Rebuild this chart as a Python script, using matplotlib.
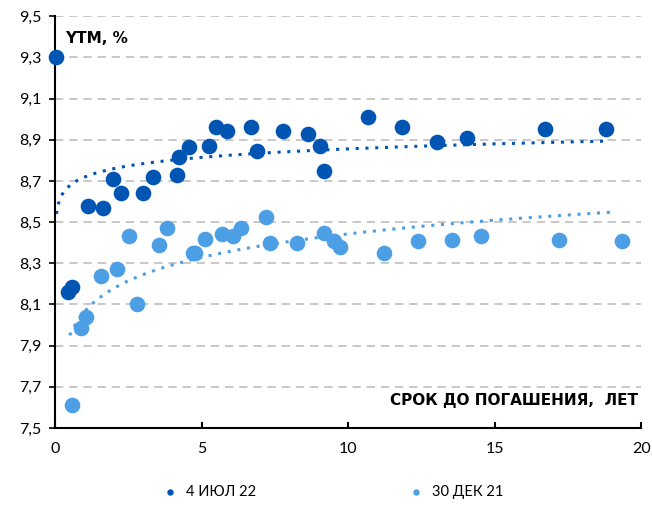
import numpy as np
import matplotlib
matplotlib.use("Agg")
import matplotlib.pyplot as plt
from matplotlib.ticker import FuncFormatter

plt.rcParams['font.family'] = ['Lato', 'DejaVu Sans']

# 4 июл 22
x_jul = [0.05, 0.44, 0.58, 1.13, 1.64, 1.98, 2.25, 3.0, 3.34, 4.16, 4.23, 4.57, 5.26,
         5.49, 5.87, 6.69, 6.89, 7.78, 8.63, 9.04, 9.18, 10.68, 11.84, 13.04, 14.06,
         16.72, 18.81]
y_jul = [9.30, 8.16, 8.185, 8.58, 8.57, 8.71, 8.64, 8.64, 8.72, 8.73, 8.815, 8.865, 8.87,
         8.96, 8.94, 8.96, 8.845, 8.94, 8.93, 8.87, 8.75, 9.01, 8.96, 8.89, 8.91,
         8.95, 8.95]

# 30 дек 21
x_dec = [0.58, 0.89, 1.06, 1.57, 2.12, 2.53, 2.8, 3.55, 3.82, 4.71, 4.78, 5.12, 5.70,
         6.08, 6.35, 7.2, 7.34, 8.26, 9.18, 9.52, 9.73, 11.23, 12.39, 13.55, 14.54,
         17.2, 19.35]
y_dec = [7.61, 7.985, 8.04, 8.24, 8.27, 8.43, 8.10, 8.39, 8.47, 8.35, 8.35, 8.42, 8.44,
         8.43, 8.47, 8.525, 8.40, 8.40, 8.445, 8.41, 8.38, 8.35, 8.41, 8.415, 8.43,
         8.415, 8.41]

c_jul = '#0055B3'
c_dec = '#4D9FE5'

fig = plt.figure(figsize=(6.52, 5.07), dpi=100)
ax = fig.add_axes([0.0844, 0.156, 0.899, 0.812])

# log trend lines
for xs, ys, col, x0, x1 in [(x_jul, y_jul, c_jul, 0.05, 18.81),
                            (x_dec, y_dec, c_dec, 0.5, 19.1)]:
    b, a = np.polyfit(np.log(xs), ys, 1)
    xt = np.linspace(x0, x1, 400)
    ax.plot(xt, a + b * np.log(xt), color=col, linestyle=(0, (1, 2.2)),
            linewidth=2.2, zorder=2)

ax.scatter(x_jul, y_jul, s=105, color=c_jul, zorder=3, label='4 ИЮЛ 22', clip_on=False)
ax.scatter(x_dec, y_dec, s=105, color=c_dec, zorder=3, label='30 ДЕК 21', clip_on=False)

ax.set_xlim(0, 20)
ax.set_ylim(7.5, 9.5)
ax.set_xticks([0, 5, 10, 15, 20])
ax.set_yticks(np.arange(7.5, 9.51, 0.2))
ax.yaxis.set_major_formatter(FuncFormatter(lambda v, p: f"{v:.1f}".replace('.', ',')))
ax.grid(axis='y', color='#BFBFBF', linestyle=(0, (5, 3.5)), linewidth=1.2)
ax.set_axisbelow(True)
for s in ['top', 'right']:
    ax.spines[s].set_visible(False)
for s in ['left', 'bottom']:
    ax.spines[s].set_linewidth(1.5)
    ax.spines[s].set_color('black')
ax.tick_params(axis='x', direction='in', length=4, width=1.5, labelsize=11.5, pad=10)
ax.tick_params(axis='y', direction='out', length=4, width=1.2, labelsize=11.5, pad=6)

ax.text(0.018, 0.965, 'YTM, %', transform=ax.transAxes, fontsize=11,
        fontweight='bold', va='top', ha='left', family='DejaVu Sans')
ax.text(0.995, 0.048, 'СРОК ДО ПОГАШЕНИЯ,  ЛЕТ', transform=ax.transAxes,
        fontsize=11, fontweight='bold', va='bottom', ha='right', family='DejaVu Sans')

fig.legend(loc='lower center', bbox_to_anchor=(0.505, -0.01), ncol=2, frameon=False,
           fontsize=10.5, markerscale=0.35, handletextpad=0.1, columnspacing=10.0)

fig.savefig('out.png', dpi=100)
